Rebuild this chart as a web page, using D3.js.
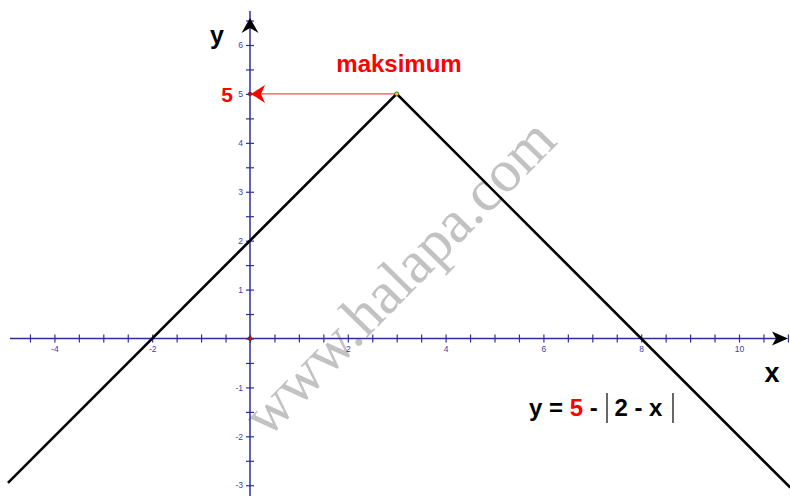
<!DOCTYPE html>
<html><head><meta charset="utf-8">
<script src="https://cdn.jsdelivr.net/npm/d3@7"></script>
<style>body{margin:0;background:#fff}svg{display:block}text{font-family:"Liberation Sans",Arial,sans-serif}</style>
</head><body>
<script>
// Data
const linePoints = [{x:-4.95,y:-2.95},{x:3,y:5},{x:11.05,y:-3.05}];
const maxPoint = {x:3, y:5};
const xTickValues = d3.range(-4.5, 11.01, 0.5);
const yTickValues = d3.range(-3, 6.51, 0.5);
const xLabelValues = [-4,-2,2,4,6,8,10];
const yLabelValues = [-3,-2,-1,1,2,3,4,5,6];

const W=790,H=496;
const svg=d3.select("body").append("svg").attr("width",W).attr("height",H);
const x=d3.scaleLinear().domain([0,10]).range([250,739]);
const y=d3.scaleLinear().domain([0,6]).range([338.5,45]);
const axisColor="#2f2f9a", labelColor="#3c3cb0";

// watermark
svg.append("text").attr("transform",`translate(413,291) rotate(-45.5)`)
  .attr("text-anchor","middle")
  .style("font-family","'Liberation Serif',serif")
  .attr("font-size",60).attr("fill","#c2c2c2").text("www.halapa.com");

// x axis
const gx=svg.append("g").attr("transform",`translate(0,${y(0)})`)
  .call(d3.axisBottom(x).tickValues(xTickValues).tickSize(4).tickPadding(3)
    .tickFormat(d=>xLabelValues.includes(d)?d:""));
gx.select(".domain").remove();
gx.append("line").attr("x1",10).attr("x2",786).attr("stroke",axisColor).attr("stroke-width",1.5);
gx.selectAll(".tick line").attr("y1",-4).attr("y2",4).attr("stroke",axisColor).attr("stroke-width",1.2);
gx.selectAll(".tick text").attr("fill",labelColor).attr("font-size",8.5).attr("font-family","Liberation Sans, Arial, sans-serif");

// y axis
const gy=svg.append("g").attr("transform",`translate(${x(0)},0)`)
  .call(d3.axisLeft(y).tickValues(yTickValues).tickSize(4).tickPadding(3)
    .tickFormat(d=>yLabelValues.includes(d)?d:""));
gy.select(".domain").remove();
gy.append("line").attr("y1",11).attr("y2",496).attr("stroke",axisColor).attr("stroke-width",1.5);
gy.selectAll(".tick line").attr("x1",-4).attr("x2",4).attr("stroke",axisColor).attr("stroke-width",1.2);
gy.selectAll(".tick text").attr("fill",labelColor).attr("font-size",8.5).attr("font-family","Liberation Sans, Arial, sans-serif");

// axis arrowheads
const ax=788, ay=y(0);
svg.append("path").attr("d",`M${ax},${ay} L${ax-16},${ay-7} L${ax-12},${ay} L${ax-16},${ay+7} Z`).attr("fill","#000");
const bx=x(0), by=18;
svg.append("path").attr("d",`M${bx},${by} L${bx-8.5},${by+15} L${bx},${by+10} L${bx+8.5},${by+15} Z`).attr("fill","#000");

// function line
const line=d3.line().x(d=>x(d.x)).y(d=>y(d.y));
svg.append("path").datum(linePoints).attr("d",line).attr("fill","none").attr("stroke","#000").attr("stroke-width",2.6);

// red arrow to y axis
svg.append("line").attr("x1",x(maxPoint.x)).attr("x2",x(0)+10).attr("y1",y(maxPoint.y)).attr("y2",y(maxPoint.y)).attr("stroke","#ff2020").attr("stroke-width",1);
svg.append("path").attr("d",`M${x(0)+1},${y(5)} L${x(0)+15},${y(5)-9} L${x(0)+11},${y(5)} L${x(0)+15},${y(5)+9} Z`).attr("fill","#ff0000");

// points
svg.append("circle").attr("cx",x(maxPoint.x)).attr("cy",y(maxPoint.y)).attr("r",2).attr("fill","#e8e000").attr("stroke","#333").attr("stroke-width",0.7);
svg.append("circle").attr("cx",x(0)).attr("cy",y(0)).attr("r",2).attr("fill","#e00").attr("stroke","#333").attr("stroke-width",0.7);
svg.append("circle").attr("cx",x(0)).attr("cy",y(5)).attr("r",1.8).attr("fill","#e00").attr("stroke","#333").attr("stroke-width",0.7);

// labels
svg.append("text").attr("x",217).attr("y",44).attr("text-anchor","middle").attr("font-weight","bold").attr("font-size",25).text("y");
svg.append("text").attr("x",772).attr("y",382).attr("text-anchor","middle").attr("font-weight","bold").attr("font-size",27).text("x");
svg.append("text").attr("x",227).attr("y",102).attr("text-anchor","middle").attr("font-weight","bold").attr("font-size",21).attr("fill","#ff0000").text("5");
svg.append("text").attr("x",399).attr("y",72).attr("text-anchor","middle").attr("font-weight","bold").attr("font-size",24).attr("fill","#ff0000").text("maksimum");

// formula
const f=svg.append("text").attr("x",529).attr("y",416).attr("font-weight","bold").attr("font-size",24).attr("fill","#000");
f.append("tspan").text("y = ");
f.append("tspan").attr("fill","#ff0000").text("5");
f.append("tspan").text(" - ");
f.append("tspan").attr("dx",10).text("2 - x");
svg.append("line").attr("x1",607).attr("x2",607).attr("y1",393).attr("y2",423).attr("stroke","#000").attr("stroke-width",1.2);
svg.append("line").attr("x1",673).attr("x2",673).attr("y1",393).attr("y2",423).attr("stroke","#000").attr("stroke-width",1.2);
</script>
</body></html>
